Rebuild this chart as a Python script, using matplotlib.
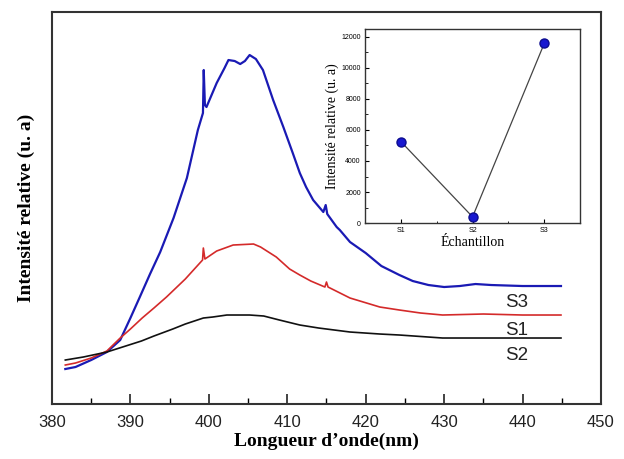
import numpy as np
import matplotlib
matplotlib.use("Agg")
import matplotlib.pyplot as plt
from matplotlib.ticker import MultipleLocator

# spectra (intensity in arbitrary units)
wl_s3 = [381.7, 383, 385, 387, 388.7, 390, 391.2, 392.5, 393.8, 395.5, 397.2, 398.6,
         399.25, 399.35, 399.5, 399.7, 401, 402, 402.5, 403.3, 404, 404.6, 405.2, 406,
         406.9, 408.2, 409.5, 410.7, 411.6, 412.4, 413.3, 414.6, 414.9, 415.1, 416.3,
         416.7, 418, 420, 422, 424.3, 426, 428, 430, 432, 434, 436, 440, 444.9]
s3 = [35, 37, 44, 52, 64, 86, 107, 130, 152, 186, 226, 274,
      291, 334, 299, 297, 321, 336, 344, 343, 340, 343, 349, 345,
      334, 304, 277, 251, 231, 217, 204, 192, 199, 190, 177,
      174, 162, 151, 138, 129, 123, 119, 117, 118, 120, 119, 118, 118]

wl_s1 = [381.7, 383, 385, 387, 388.7, 390, 391.5, 393, 394.6, 397, 399.2, 399.3,
         399.5, 401, 403.1, 405.7, 406.6, 408.6, 410.3, 411.6, 413, 414.8, 415,
         415.2, 418, 421.8, 424.3, 427, 429.8, 435, 440, 444.9]
s1 = [39, 41, 46, 53, 66, 75, 86, 96, 107, 125, 144, 156,
      145, 153, 159, 160, 157, 147, 135, 129, 123, 117, 122,
      117, 106, 97, 94, 91, 89, 90, 89, 89]

wl_s2 = [381.7, 384, 387, 389, 391.4, 393, 395.4, 397, 399.3, 400.5, 402.3,
         405.2, 407, 409, 411.6, 414, 418, 421.8, 424.3, 429.8, 435, 444.9]
s2 = [44, 47, 52, 57, 63, 68, 75, 80, 86, 87, 89,
      89, 88, 84, 79, 76, 72, 70, 69, 66, 66, 66]

# inset: integrated intensity per sample
samples = ["S1", "S2", "S3"]
peak_int = [5250, 400, 11570]

fig = plt.figure(figsize=(6.24, 4.59), dpi=100)
ax = fig.add_axes([0.0833, 0.1198, 0.8798, 0.854])

ax.plot(wl_s3, s3, color="#1a1ab4", lw=1.6)
ax.plot(wl_s1, s1, color="#d42a2a", lw=1.2)
ax.plot(wl_s2, s2, color="#111111", lw=1.2)

lab_x = wl_s3[-1] - 5.7
ax.text(lab_x, s3[-1] - 16, "S3", fontsize=13.5, family="Liberation Sans",
        ha="center", va="center", color="#222222")
ax.text(lab_x, s1[-1] - 15, "S1", fontsize=13.5, family="Liberation Sans",
        ha="center", va="center", color="#222222")
ax.text(lab_x, s2[-1] - 17, "S2", fontsize=13.5, family="Liberation Sans",
        ha="center", va="center", color="#222222")

ax.set_xlim(380, 450)
ax.set_ylim(0, 392)
ax.xaxis.set_major_locator(MultipleLocator(10))
ax.xaxis.set_minor_locator(MultipleLocator(5))
ax.set_yticks([])
ax.tick_params(axis="x", which="major", direction="in", length=7, width=1.2,
               labelsize=12, colors="#222222", pad=8)
ax.tick_params(axis="x", which="minor", direction="in", length=4, width=1.0)
for lab in ax.get_xticklabels():
    lab.set_family("Liberation Sans")
for sp in ax.spines.values():
    sp.set_linewidth(1.5)
    sp.set_color("#333333")

ax.set_xlabel("Longueur d\u2019onde(nm)", family="Liberation Serif", fontweight="bold",
              fontsize=14, labelpad=2)
ax.set_ylabel("Intensit\u00e9 relative (u. a)", family="Liberation Serif", fontweight="bold",
              fontsize=14, labelpad=12)

# inset
ins = fig.add_axes([0.585, 0.514, 0.3446, 0.4227])
x = np.arange(1, len(samples) + 1)
ins.plot(x, peak_int, color="#444444", lw=0.9)
ins.plot(x, peak_int, "o", color="#1818d0", mec="#0c0c90", ms=6.5)
ins.set_xlim(0.5, 3.5)
ins.set_ylim(0, 12500)
ins.set_xticks(x)
ins.set_xticklabels(samples)
ins.yaxis.set_major_locator(MultipleLocator(2000))
ins.yaxis.set_minor_locator(MultipleLocator(1000))
ins.set_xticks([1.5, 2.5], minor=True)
ins.tick_params(which="major", direction="in", length=3, width=0.8, labelsize=5, pad=3)
ins.tick_params(which="minor", direction="in", length=1.8, width=0.6)
for lab in ins.get_xticklabels() + ins.get_yticklabels():
    lab.set_family("Liberation Sans")
for sp in ins.spines.values():
    sp.set_linewidth(1.0)
    sp.set_color("#333333")
ins.set_ylabel("Intensit\u00e9 relative (u. a)", family="Liberation Serif", fontsize=10, labelpad=2)
ins.set_xlabel("\u00c9chantillon", family="Liberation Serif", fontsize=10, labelpad=1)

fig.savefig("out.png", dpi=100)
